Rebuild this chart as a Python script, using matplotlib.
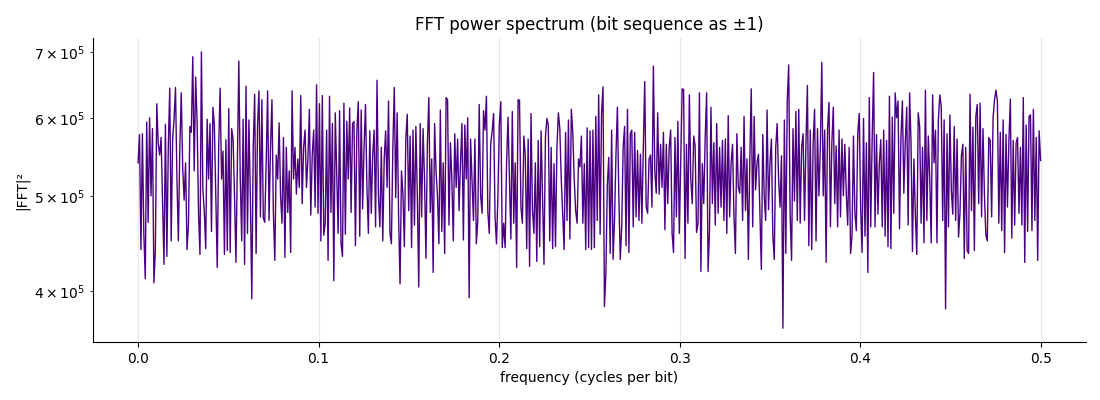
import numpy as np
import matplotlib
matplotlib.use("Agg")
import matplotlib.pyplot as plt

# |FFT|^2 values in thousands from left to right
seg1 = [540, 577, 441, 578, 458, 412, 594, 470, 600, 500,
        585, 408, 440, 620, 565, 550, 573, 495, 426, 591,
        434, 560, 643, 450, 570, 598, 644, 520, 450, 560,
        636, 534, 495, 540, 441, 467, 588, 580, 692, 530,
        660, 595, 480, 436, 700, 508, 482, 442, 598, 520,
        592, 460, 615, 590, 500, 423, 560, 643, 520, 555,
        436, 570, 440, 613, 438, 585, 571, 500, 428, 540,
        685, 520, 450, 598]
seg2 = [426, 646, 458, 597, 500, 393, 560, 634, 437, 590,
        639, 476, 626, 475, 470, 540, 639, 472, 560, 626,
        480, 430, 550, 520, 593, 500, 469, 573, 433, 560,
        481, 530, 438, 639, 520, 560, 502, 545, 510, 632,
        491, 560, 583, 510, 545, 612, 478, 550, 583, 487,
        648, 480, 620, 450, 632, 456, 469, 583, 430, 631,
        481, 592, 410, 607, 530, 458, 610, 447, 434, 621,
        457, 595, 520, 614, 481, 592, 595, 445, 583, 623]
seg3 = [455, 611, 485, 560, 619, 510, 458, 582, 480, 550,
        583, 465, 655, 500, 465, 560, 450, 545, 582, 510,
        624, 458, 447, 560, 644, 498, 607, 476, 407, 530,
        502, 444, 571, 605, 483, 575, 443, 583, 467, 588,
        500, 404, 592, 476, 585, 520, 432, 566, 629, 481,
        545, 418, 592, 530, 500, 447, 611, 460, 540, 437,
        629, 626, 467, 566, 520, 450, 578, 510, 571, 483,
        540, 592, 451, 590, 520, 600, 394, 571, 520, 472]
seg4 = [571, 447, 472, 619, 500, 480, 610, 583, 631, 481,
        458, 564, 582, 606, 476, 447, 500, 592, 623, 443,
        469, 443, 539, 601, 520, 452, 609, 469, 540, 423,
        626, 625, 487, 469, 575, 550, 442, 571, 424, 606,
        483, 458, 540, 429, 569, 444, 582, 500, 426, 573,
        599, 590, 450, 560, 442, 539, 444, 560, 607, 585,
        520, 480, 441, 580, 472, 597, 452, 612, 580, 520,
        483, 469, 545, 535, 575, 469, 539, 441, 586, 443]
seg5 = [582, 441, 583, 443, 602, 472, 633, 457, 607, 645,
        386, 417, 513, 547, 437, 583, 431, 472, 550, 615,
        500, 431, 465, 560, 588, 445, 612, 438, 578, 583,
        465, 580, 476, 556, 472, 551, 469, 560, 653, 487,
        480, 545, 550, 487, 677, 530, 503, 607, 502, 564,
        510, 580, 462, 564, 491, 560, 583, 458, 438, 573,
        476, 595, 458, 540, 642, 641, 432, 564, 469, 633,
        520, 491, 575, 562, 459, 469, 636, 419, 539, 491]
seg6 = [573, 636, 419, 461, 615, 491, 566, 467, 592, 480,
        560, 487, 569, 472, 571, 458, 603, 476, 540, 564,
        476, 437, 578, 510, 503, 560, 472, 602, 483, 545,
        431, 545, 642, 465, 602, 507, 540, 551, 482, 421,
        577, 500, 472, 611, 484, 540, 571, 455, 431, 560,
        592, 520, 487, 549, 367, 597, 437, 624, 679, 480,
        430, 585, 494, 609, 472, 612, 469, 560, 578, 472,
        566, 647, 445, 583, 441, 566, 612, 450, 585, 500]
seg7 = [560, 683, 500, 583, 428, 585, 622, 465, 566, 615,
        491, 562, 465, 583, 476, 571, 500, 564, 503, 467,
        560, 437, 455, 575, 480, 461, 580, 606, 487, 438,
        599, 455, 566, 418, 629, 465, 571, 667, 465, 577,
        479, 540, 570, 465, 583, 455, 569, 444, 631, 442,
        601, 480, 636, 600, 624, 463, 573, 624, 503, 566,
        615, 467, 636, 566, 439, 545, 479, 436, 607, 588,
        469, 560, 448, 640, 472, 575, 520, 448, 633, 540]
seg8 = [583, 448, 597, 633, 616, 472, 597, 384, 578, 465,
        604, 507, 479, 588, 472, 571, 454, 480, 549, 564,
        432, 560, 440, 437, 634, 483, 587, 440, 601, 619,
        491, 621, 476, 585, 500, 456, 450, 573, 569, 476,
        600, 626, 640, 624, 469, 580, 461, 597, 438, 577,
        487, 569, 627, 453, 569, 467, 566, 573, 480, 560,
        467, 629, 428, 590, 460, 602, 604, 461, 612, 472,
        573, 430, 582, 543]

power = np.array(seg1 + seg2 + seg3 + seg4 + seg5 + seg6 + seg7 + seg8) * 1e3
freqs = np.fft.rfftfreq(2 * (len(power) - 1))

fig, ax = plt.subplots(figsize=(11, 4), dpi=100)
ax.plot(freqs, power, color="indigo", lw=1.0)
ax.set_yscale("log")
ax.set_title("FFT power spectrum (bit sequence as ±1)")
ax.set_xlabel("frequency (cycles per bit)")
ax.set_ylabel("|FFT|²")
ax.grid(axis="x", alpha=0.3)
ax.spines["top"].set_visible(False)
ax.spines["right"].set_visible(False)

fig.subplots_adjust(left=0.0845, right=0.987, top=0.905, bottom=0.145)
fig.savefig("out.png")
